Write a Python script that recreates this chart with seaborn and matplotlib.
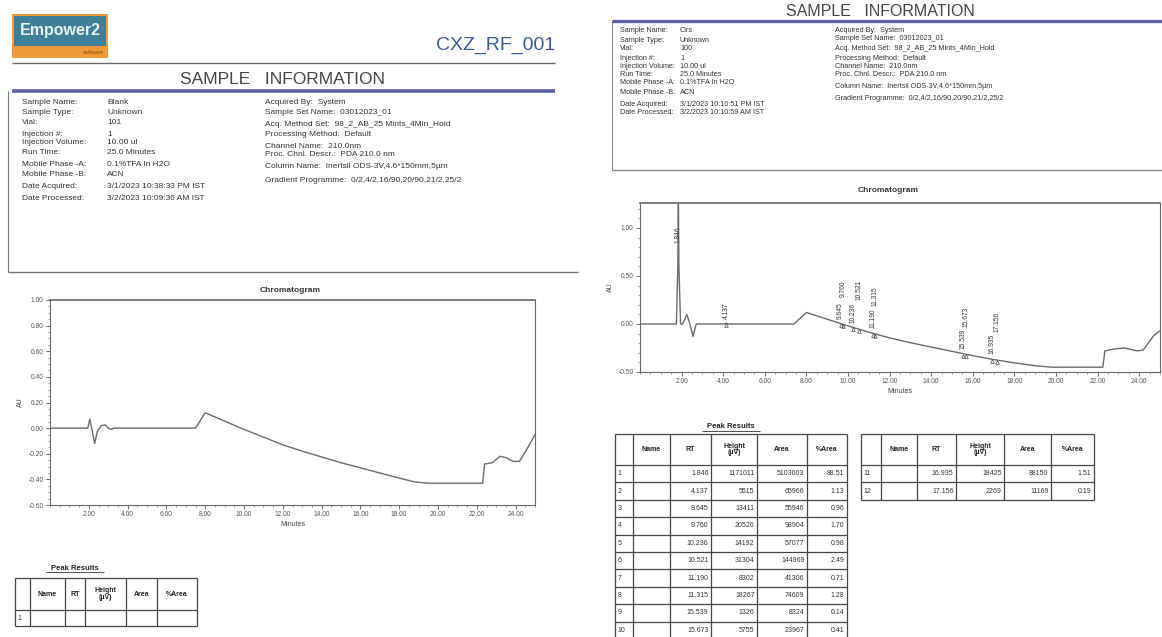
import numpy as np
import pandas as pd
import matplotlib
matplotlib.use("Agg")
import matplotlib.pyplot as plt
import seaborn as sns
from matplotlib.patches import Rectangle
from matplotlib.ticker import MultipleLocator, FormatStrFormatter

# ---------------- data ----------------
info_labels_left = ["Sample Name:", "Sample Type:", "Vial:", "Injection #:", "Injection Volume:",
                    "Run Time:", "Mobile Phase -A:", "Mobile Phase -B:", "Date Acquired:", "Date Processed:"]
info_labels_right = ["Acquired By:", "Sample Set Name:", "Acq. Method Set:", "Processing Method:",
                     "Channel Name:", "Proc. Chnl. Descr.:", "Column Name:", "Gradient Programme:"]

blank_values_left = ["Blank", "Unknown", "101", "1", "10.00 ul", "25.0 Minutes", "0.1%TFA In H2O", "ACN",
                     "3/1/2023 10:38:33 PM IST", "3/2/2023 10:09:36 AM IST"]
cirs_values_left = ["Cirs", "Unknown", "100", "1", "10.00 ul", "25.0 Minutes", "0.1%TFA In H2O", "ACN",
                    "3/1/2023 10:10:51 PM IST", "3/2/2023 10:10:59 AM IST"]
common_values_right = ["System", "03012023_01", "98_2_AB_25 Mints_4Min_Hold", "Default", "210.0nm",
                       "PDA 210.0 nm", "Inertsil ODS-3V,4.6*150mm,5µm", "0/2,4/2,16/90,20/90,21/2,25/2"]

# Blank chromatogram (minutes, AU)
blank_time = [0.0, 1.95, 2.05, 2.15, 2.30, 2.45, 2.65, 2.85, 3.00, 3.15, 3.30, 7.50, 8.00, 9.0, 10.0,
              11.0, 12.0, 13.0, 14.0, 15.0, 16.0, 17.0, 18.0, 18.8, 19.5, 22.30, 22.40, 22.80, 23.20,
              23.50, 23.85, 24.20, 24.60, 25.0]
blank_au = [0.0, 0.0, 0.07, 0.0, -0.12, -0.02, 0.02, 0.025, 0.0, -0.01, 0.0, 0.0, 0.12, 0.055, -0.01,
            -0.07, -0.13, -0.18, -0.225, -0.27, -0.31, -0.35, -0.39, -0.42, -0.43, -0.43, -0.28, -0.27,
            -0.22, -0.23, -0.26, -0.26, -0.16, -0.05]

# Sample chromatogram (minutes, AU)
cirs_time = [0.0, 1.75, 1.82, 1.846, 1.87, 1.95, 2.05, 2.25, 2.40, 2.55, 2.70, 4.05, 4.137, 4.25, 7.40,
             8.00, 9.0, 10.0, 11.0, 12.0, 13.0, 14.0, 15.0, 16.0, 17.0, 18.0, 19.0, 19.8, 22.25, 22.35,
             22.80, 23.30, 23.90, 24.20, 24.70, 25.0]
cirs_au = [0.0, 0.0, 0.60, 1.30, 0.60, 0.0, 0.0, 0.10, 0.0, -0.13, 0.0, 0.0, 0.006, 0.0, 0.0,
           0.12, 0.05, -0.02, -0.085, -0.145, -0.195, -0.24, -0.285, -0.33, -0.37, -0.405, -0.435, -0.45,
           -0.45, -0.28, -0.26, -0.25, -0.28, -0.27, -0.12, -0.07]

# Peak results (sample)
peak_no = [1, 2, 3, 4, 5, 6, 7, 8, 9, 10, 11, 12]
peak_rt = [1.846, 4.137, 9.645, 9.760, 10.236, 10.521, 11.190, 11.315, 15.539, 15.673, 16.935, 17.156]
peak_height = [1171011, 5515, 13411, 20526, 14192, 31304, 8302, 18267, 1326, 5755, 18425, 2269]
peak_area = [5103003, 65966, 55946, 98904, 57077, 144969, 41306, 74609, 8324, 23967, 88150, 11169]
peak_pct = [88.51, 1.13, 0.96, 1.70, 0.98, 2.49, 0.71, 1.28, 0.14, 0.41, 1.51, 0.19]

table_header = ["", "Name", "RT", "Height\n(µV)", "Area", "%Area"]

# ---------------- setup ----------------
sns.set_theme(style="white")
plt.rcParams['font.family'] = ['Liberation Sans', 'DejaVu Sans']

W, H = 1162, 637
fig = plt.figure(figsize=(W / 100, H / 100), dpi=100)
fig.patch.set_facecolor("white")
bg = fig.add_axes([0, 0, 1, 1], zorder=0)
bg.set_xlim(0, W)
bg.set_ylim(H, 0)
bg.axis("off")

TXT = "#333333"


def t(x, y, s, size=6, color=TXT, **kw):
    kw.setdefault("va", "center")
    kw.setdefault("ha", "left")
    bg.text(x, y, s, fontsize=size, color=color, **kw)


def hline(x0, x1, y, lw=0.8, color="#555555"):
    bg.plot([x0, x1], [y, y], color=color, lw=lw, solid_capstyle="butt")


def vline(x, y0, y1, lw=0.8, color="#555555"):
    bg.plot([x, x], [y0, y1], color=color, lw=lw, solid_capstyle="butt")


# ---------------- left page header ----------------
bg.add_patch(Rectangle((12, 14), 96, 44, facecolor="#EE9A3A", edgecolor="none"))
bg.add_patch(Rectangle((14, 16), 92, 30, facecolor="#3F7F97", edgecolor="none"))
t(60, 31, "Empower2", size=11.5, color="#E8F4F6", ha="center", weight="bold")
t(104, 52, "software", size=4, color="#8A4A10", ha="right")
t(555, 45, "CXZ_RF_001", size=14, color="#3B5A9A", ha="right")
hline(12, 555, 63, lw=1.0, color="#666666")
t(283, 80, "SAMPLE   INFORMATION", size=12.5, color="#444444", ha="center")
hline(12, 555, 91, lw=2.6, color="#5E5EA6")
vline(8, 91, 272, color="#777777")
hline(8, 578, 272, lw=1.0, color="#777777")

rows_l = [103, 113, 123, 134, 143, 153, 164, 174, 187, 199]
for y, lab, val in zip(rows_l, info_labels_left, blank_values_left):
    t(22, y, lab, size=6)
    t(107, y, val, size=6)
rows_r = [103, 113, 124, 135, 146, 155, 167, 181]
for y, lab, val in zip(rows_r, info_labels_right, common_values_right):
    t(265, y, f"{lab}  {val}", size=6)

# ---------------- right page header ----------------
t(880, 12, "SAMPLE   INFORMATION", size=11.5, color="#444444", ha="center")
hline(612, 1162, 21, lw=2.4, color="#5E5EA6")
vline(612, 21, 170, color="#888888")
hline(612, 1162, 170, lw=1.0, color="#888888")
rows_l2 = [30, 40, 49, 58, 66, 74, 83, 92, 104, 113]
for y, lab, val in zip(rows_l2, info_labels_left, cirs_values_left):
    t(620, y, lab, size=5.2)
    t(680, y, val, size=5.2)
rows_r2 = [30, 39, 48, 58, 66, 74, 86, 98]
for y, lab, val in zip(rows_r2, info_labels_right, common_values_right):
    t(835, y, f"{lab}  {val}", size=5.2)


# ---------------- chromatograms ----------------
def chrom_axes(x0, y0, x1, y1):
    return fig.add_axes([x0 / W, 1 - y1 / H, (x1 - x0) / W, (y1 - y0) / H], zorder=2)


def style_axes(ax, ylim, ymajor, yminor):
    ax.set_xlim(0, 25)
    ax.set_ylim(*ylim)
    ax.xaxis.set_minor_locator(MultipleLocator(0.5))
    ax.yaxis.set_major_locator(MultipleLocator(ymajor))
    ax.yaxis.set_minor_locator(MultipleLocator(yminor))
    ax.set_xticks(list(np.arange(2, 25, 2)))
    ax.xaxis.set_major_formatter(FormatStrFormatter("%.2f"))
    ax.yaxis.set_major_formatter(FormatStrFormatter("%.2f"))
    ax.tick_params(axis="both", which="major", direction="out", length=3, width=0.6,
                   labelsize=4.8, colors="#555555", pad=1.5, bottom=True, left=True)
    ax.tick_params(axis="both", which="minor", direction="out", length=1.6, width=0.5,
                   colors="#777777", bottom=True, left=True)
    for sp in ax.spines.values():
        sp.set_color("#666666")
        sp.set_linewidth(0.8)
    ax.spines["top"].set_linewidth(1.2)
    ax.set_xlabel("Minutes", fontsize=5, color="#444444", labelpad=2)
    ax.set_ylabel("AU", fontsize=5, color="#444444", labelpad=3)
    ax.grid(False)
    ax.set_facecolor("white")


# Left (blank)
t(290, 290, "Chromatogram", size=6, color="#333333", ha="center", weight="bold")
axL = chrom_axes(50, 300, 535, 505)
dfL = pd.DataFrame({"Minutes": blank_time, "AU": blank_au})
sns.lineplot(data=dfL, x="Minutes", y="AU", ax=axL, color="#6a6a6a", lw=1.0, estimator=None, sort=False)
style_axes(axL, (-0.60, 1.00), 0.20, 0.05)

# Right (sample)
t(888, 190, "Chromatogram", size=6, color="#333333", ha="center", weight="bold")
axR = chrom_axes(640, 203, 1160, 372)
dfR = pd.DataFrame({"Minutes": cirs_time, "AU": cirs_au})
sns.lineplot(data=dfR, x="Minutes", y="AU", ax=axR, color="#6a6a6a", lw=1.0, estimator=None, sort=False)
style_axes(axR, (-0.50, 1.26), 0.50, 0.10)

# peak labels: close peaks are stacked vertically (Empower style)
base_interp = np.interp(peak_rt, cirs_time, cirs_au)
step = 0.23
prev_rt, prev_top = None, None
for i, rt in enumerate(peak_rt):
    if i == 0:
        y = 0.84
    elif prev_rt is not None and rt - prev_rt < 0.4:
        y = prev_top
    else:
        y = base_interp[i] + 0.05
    axR.text(rt, y, f"{rt:.3f}", rotation=90, ha="center", va="bottom", fontsize=4.8,
             color="#333333", clip_on=True)
    prev_rt, prev_top = rt, y + step
    if i > 0:
        axR.plot([rt], [base_interp[i] - 0.02], marker="^", ms=2.6, mfc="none", mec="#444444", mew=0.5)


# ---------------- tables ----------------
def draw_table(cols, rows_y, header, body, title=None, title_xy=None, size=5):
    if title:
        t(title_xy[0], title_xy[1], title, size=size + 0.5, color="#222222", ha="center", weight="bold")
        tw = 58
        hline(title_xy[0] - tw / 2, title_xy[0] + tw / 2, title_xy[1] + 4, lw=0.6, color="#333333")
    top, bot = rows_y[0], rows_y[-1]
    for x in cols:
        vline(x, top, min(bot, H), lw=0.9, color="#444444")
    for y in rows_y:
        if y <= H:
            hline(cols[0], cols[-1], y, lw=0.9, color="#444444")
    hy = (rows_y[0] + rows_y[1]) / 2
    for j, h in enumerate(header):
        t((cols[j] + cols[j + 1]) / 2, hy, h, size=size, ha="center", color="#222222",
          weight="bold", linespacing=1.0)
    for r, row in enumerate(body):
        ry = (rows_y[r + 1] + rows_y[r + 2]) / 2
        for j, val in enumerate(row):
            if j == 0:
                t(cols[0] + 2.5, ry, val, size=size, color="#333333")
            elif val != "":
                t(cols[j + 1] - 2.5, ry, val, size=size, color="#333333", ha="right")


draw_table([15, 30, 65, 85, 126, 157, 197], [578, 610, 626], table_header,
           [["1", "", "", "", "", ""]], title="Peak Results", title_xy=(75, 568), size=5)


def fmt_row(i):
    return [str(peak_no[i]), "", f"{peak_rt[i]:.3f}", f"{peak_height[i]}", f"{peak_area[i]}",
            f"{peak_pct[i]:.2f}"]


rh = 17.4
rows1 = [434, 465] + [465 + rh * k for k in range(1, 11)]
draw_table([615, 633, 670, 711, 757, 807, 847], rows1, table_header,
           [fmt_row(i) for i in range(10)], title="Peak Results", title_xy=(731, 427), size=5)
rows2 = [434, 465, 465 + rh, 465 + 2 * rh]
draw_table([861, 881, 917, 956, 1004, 1051, 1094], rows2, table_header,
           [fmt_row(i) for i in range(10, 12)], size=5)

fig.savefig("out.png", dpi=100, facecolor="white")
